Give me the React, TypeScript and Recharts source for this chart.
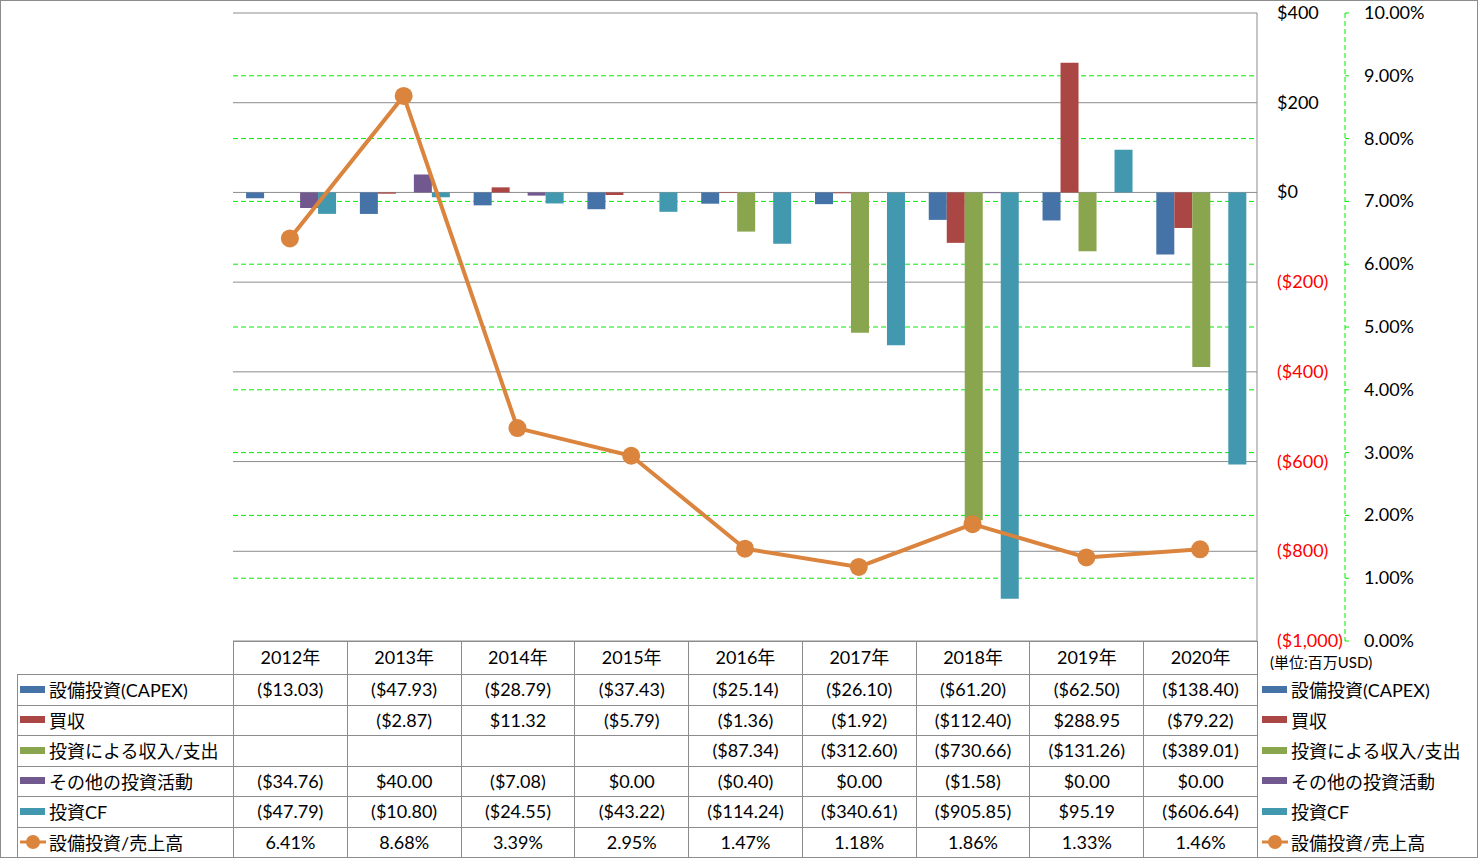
import React from 'react';
import { ComposedChart, Bar, Line, XAxis, YAxis, CartesianGrid } from 'recharts';

const years = ['2012年', '2013年', '2014年', '2015年', '2016年', '2017年', '2018年', '2019年', '2020年'];
const capex = [-13.03, -47.93, -28.79, -37.43, -25.14, -26.1, -61.2, -62.5, -138.4];
const acquisition = [null, -2.87, 11.32, -5.79, -1.36, -1.92, -112.4, 288.95, -79.22];
const investIncome = [null, null, null, null, -87.34, -312.6, -730.66, -131.26, -389.01];
const otherInvest = [-34.76, 40.0, -7.08, 0.0, -0.4, 0.0, -1.58, 0.0, 0.0];
const investCF = [-47.79, -10.8, -24.55, -43.22, -114.24, -340.61, -905.85, 95.19, -606.64];
const capexRatio = [6.41, 8.68, 3.39, 2.95, 1.47, 1.18, 1.86, 1.33, 1.46];

const usdTicks = [-1000, -800, -600, -400, -200, 0, 200, 400];
const pctTicks = [0, 1, 2, 3, 4, 5, 6, 7, 8, 9, 10];
// green dashed grid only between the borders
const pctGridValues = [1, 2, 3, 4, 5, 6, 7, 8, 9];

const barSeries = [
  { key: 'capex', name: '設備投資(CAPEX)', color: '#4572A7', values: capex },
  { key: 'acquisition', name: '買収', color: '#AA4643', values: acquisition },
  { key: 'investIncome', name: '投資による収入/支出', color: '#89A54E', values: investIncome },
  { key: 'otherInvest', name: 'その他の投資活動', color: '#71588F', values: otherInvest },
  { key: 'investCF', name: '投資CF', color: '#4198AF', values: investCF },
];
const lineSeries = { key: 'ratio', name: '設備投資/売上高', color: '#DB843D', values: capexRatio };

const data = years.map((year, i) => {
  const row: any = { year, ratio: capexRatio[i] };
  barSeries.forEach((s) => { row[s.key] = s.values[i]; });
  return row;
});

const FONT = "Lato, 'Noto Sans CJK JP', sans-serif";

const fmtAxisUsd = (v: number) => {
  const s = Math.abs(v).toLocaleString('en-US');
  return v < 0 ? `($${s})` : `$${s}`;
};
const fmtCell = (v: number | null) => {
  if (v === null || v === undefined) return '';
  const s = Math.abs(v).toFixed(2);
  return v < 0 ? `($${s})` : `$${s}`;
};

const UsdTick = (props: any) => {
  const { x, y, payload } = props;
  const v = payload.value;
  return (
    <text x={x} y={y} dy={6} textAnchor="start" fill={v < 0 ? '#FF0000' : '#000000'} fontSize={18} fontFamily={FONT}>
      {fmtAxisUsd(v)}
    </text>
  );
};

const PctTick = (props: any) => {
  const { x, y, payload } = props;
  return (
    <text x={x} y={y} dy={6} textAnchor="start" fill="#000000" fontSize={18} fontFamily={FONT}>
      {`${payload.value.toFixed(2)}%`}
    </text>
  );
};

// table geometry
const plotLeft = 233;
const plotRight = 1257;
const colW = (plotRight - plotLeft) / years.length;
const headerTop = 641;
const headerH = 33;
const rowH = 30.5;
const gray = '#8C8C8C';

const Swatch = ({ color, line }: { color: string; line?: boolean }) =>
  line ? (
    <svg width={26} height={16} style={{ marginRight: 3, flex: 'none' }}>
      <line x1={0} y1={8} x2={26} y2={8} stroke={color} strokeWidth={3} />
      <circle cx={13} cy={8} r={7} fill={color} />
    </svg>
  ) : (
    <span style={{ display: 'inline-block', width: 25, height: 7, background: color, marginRight: 4, flex: 'none' }} />
  );

const App = () => {
  const rows = [...barSeries.map((s) => ({ ...s, line: false, cells: s.values.map(fmtCell) })),
    { ...lineSeries, line: true, cells: lineSeries.values.map((v) => `${v.toFixed(2)}%`) }];

  return (
    <div style={{ position: 'absolute', left: 0, top: 0, width: 1478, height: 858, background: '#fff', fontFamily: FONT, overflow: 'hidden' }}>
      <ComposedChart
        width={1478}
        height={660}
        data={data}
        margin={{ top: 13, right: 0, bottom: 19, left: 233 }}
        barCategoryGap="11.5%"
        barGap={0}
      >
        <XAxis dataKey="year" hide />
        <YAxis
          yAxisId="a_usd"
          orientation="right"
          width={88}
          domain={[-1000, 400]}
          ticks={usdTicks}
          axisLine={{ stroke: gray, strokeWidth: 1 }}
          tickLine={false}
          tickSize={0}
          tickMargin={20}
          tick={<UsdTick />}
          interval={0}
        />
        <YAxis
          yAxisId="b_pct"
          orientation="right"
          width={133}
          domain={[0, 10]}
          ticks={pctTicks}
          axisLine={{ stroke: '#00EE00', strokeDasharray: '5 3' }}
          tickLine={{ stroke: '#00EE00' }}
          tickSize={4}
          tickMargin={15}
          tick={<PctTick />}
          interval={0}
        />
        <CartesianGrid yAxisId="b_pct" vertical={false} horizontalValues={pctGridValues} stroke="#00EE00" strokeDasharray="5 3" />
        <CartesianGrid yAxisId="a_usd" vertical={false} stroke={gray} />
        {barSeries.map((s) => (
          <Bar key={s.key} yAxisId="a_usd" dataKey={s.key} name={s.name} fill={s.color} isAnimationActive={false} />
        ))}
        <Line
          yAxisId="b_pct"
          dataKey="ratio"
          name={lineSeries.name}
          stroke={lineSeries.color}
          strokeWidth={4}
          dot={{ r: 9, fill: lineSeries.color, stroke: 'none' }}
          isAnimationActive={false}
        />
      </ComposedChart>

      {/* data table */}
      <div style={{ position: 'absolute', left: plotLeft, top: headerTop, width: plotRight - plotLeft, height: 1, background: gray }} />
      {years.map((y, i) => (
        <div key={y} style={{ position: 'absolute', left: plotLeft + i * colW, top: headerTop, width: colW, height: headerH, lineHeight: `${headerH}px`, textAlign: 'center', fontSize: 18, color: '#000', borderLeft: `1px solid ${gray}`, boxSizing: 'border-box' }}>
          {y}
        </div>
      ))}
      {rows.map((r, ri) => {
        const top = headerTop + headerH + ri * rowH;
        return (
          <React.Fragment key={r.key}>
            <div style={{ position: 'absolute', left: 17, top, width: plotRight - 17, height: rowH, borderTop: `1px solid ${gray}`, borderLeft: `1px solid ${gray}`, boxSizing: 'border-box' }} />
            <div style={{ position: 'absolute', left: 20, top, height: rowH, display: 'flex', alignItems: 'center', fontSize: 18, color: '#000', whiteSpace: 'nowrap' }}>
              <Swatch color={r.color} line={r.line} />
              {r.name}
            </div>
            {r.cells.map((c, ci) => (
              <div key={ci} style={{ position: 'absolute', left: plotLeft + ci * colW, top, width: colW, height: rowH, lineHeight: `${rowH}px`, textAlign: 'center', fontSize: 18, color: '#000', borderLeft: `1px solid ${gray}`, boxSizing: 'border-box' }}>
                {c}
              </div>
            ))}
            <div style={{ position: 'absolute', left: 1262, top, height: rowH, display: 'flex', alignItems: 'center', fontSize: 18, color: '#000', whiteSpace: 'nowrap' }}>
              <Swatch color={r.color} line={r.line} />
              {r.name}
            </div>
          </React.Fragment>
        );
      })}
      <div style={{ position: 'absolute', left: plotRight, top: headerTop, width: 1, height: 858 - headerTop, background: gray }} />
      <div style={{ position: 'absolute', left: 17, top: 857, width: plotRight - 17, height: 1, background: gray }} />
      <div style={{ position: 'absolute', left: 1270, top: 651, fontSize: 15, color: '#000', whiteSpace: 'nowrap' }}>(単位:百万USD)</div>
      <div style={{ position: 'absolute', left: 0, top: 0, width: 1478, height: 858, border: `1px solid ${gray}`, boxSizing: 'border-box', pointerEvents: 'none' }} />
    </div>
  );
};

export default App;
